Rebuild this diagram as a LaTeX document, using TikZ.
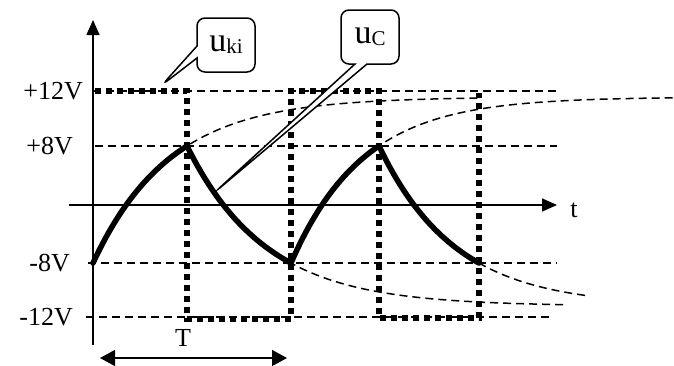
\documentclass[tikz,border=0pt]{standalone}
\usepackage{fontspec}
\setmainfont{Liberation Serif}
\usetikzlibrary{positioning,arrows.meta,shapes.callouts}

\begin{document}
\begin{tikzpicture}[x=1pt,y=-1pt,
  font=\fontsize{26}{28}\selectfont,
  lvl/.style={anchor=east,inner sep=0pt},
  grid/.style={line width=1.5pt,dash pattern=on 8pt off 5pt},
  axis/.style={line width=1.5pt,-{Triangle[length=15pt,width=13pt]}},
  sq/.style={line width=6pt,dash pattern=on 6pt off 5pt},
  uc/.style={line width=5.5pt,line cap=round,line join=round},
  call/.style={rectangle callout,draw,fill=white,rounded corners=8pt,line width=1.5pt,
               minimum width=58pt,minimum height=54pt,inner sep=0pt,callout pointer width=12pt}
]
\useasboundingbox (0,0) rectangle (674,365);

% levels
\draw[grid] (93,91) -- (560,91);
\draw[grid] (95,146) -- (557,146);
\draw[grid] (88,263) -- (557,263);
\draw[grid] (86,317) -- (553,317);
\node[lvl] (p12) at (83,91) {+12V};
\node[lvl] (p8) at (73,146) {+8V};
\node[lvl] (m8) at (70,263) {-8V};
\node[lvl] (m12) at (73,317) {-12V};

% exponentials
\draw[grid] plot[domain=93:478,samples=60] (\x,{97+166*exp(-(\x-93)/77)});
\draw[grid] plot[domain=187:565,samples=60] (\x,{306-160*exp(-(\x-187)/79)});
\draw[grid] plot[domain=291:674,samples=60] (\x,{97+166*exp(-(\x-291)/72)});
\draw[grid] plot[domain=379:587,samples=40] (\x,{306-160*exp(-(\x-379)/76)});

% u_ki
\draw[sq] (95,91) -| (187,319) -| (291,91) -| (379,318) -| (479,93);

% u_C
\draw[uc] plot[domain=93:187,samples=30] (\x,{97+166*exp(-(\x-93)/77)})
  -- plot[domain=187:291,samples=30] (\x,{306-160*exp(-(\x-187)/79)})
  -- plot[domain=291:379,samples=30] (\x,{97+166*exp(-(\x-291)/72)})
  -- plot[domain=379:479,samples=30] (\x,{306-160*exp(-(\x-379)/76)});

% axes
\draw[axis] (93,345) -- (93,20);
\draw[axis] (69,205) -- (557,205);
\node (t) at (574,210) {t};

% period
\node (T) at (183,338) {T};
\coordinate (ta) at (100,358);
\coordinate (tb) at (287,358);
\draw[line width=1.5pt,{Triangle[length=15pt,width=16pt]}-{Triangle[length=15pt,width=16pt]}] (ta) -- (tb);

% callouts
\coordinate (kip) at (162,85);
\coordinate (ucp) at (215,192);
\node[call,callout absolute pointer={(kip)}] (uki) at (226,45) {\fontsize{34}{34}\selectfont u\raisebox{-2pt}{\fontsize{21}{21}\selectfont ki}};
\node[call,callout absolute pointer={(ucp)}] (ucl) at (370,37) {\fontsize{34}{34}\selectfont u\raisebox{-2pt}{\fontsize{21}{21}\selectfont C}};
\end{tikzpicture}
\end{document}
